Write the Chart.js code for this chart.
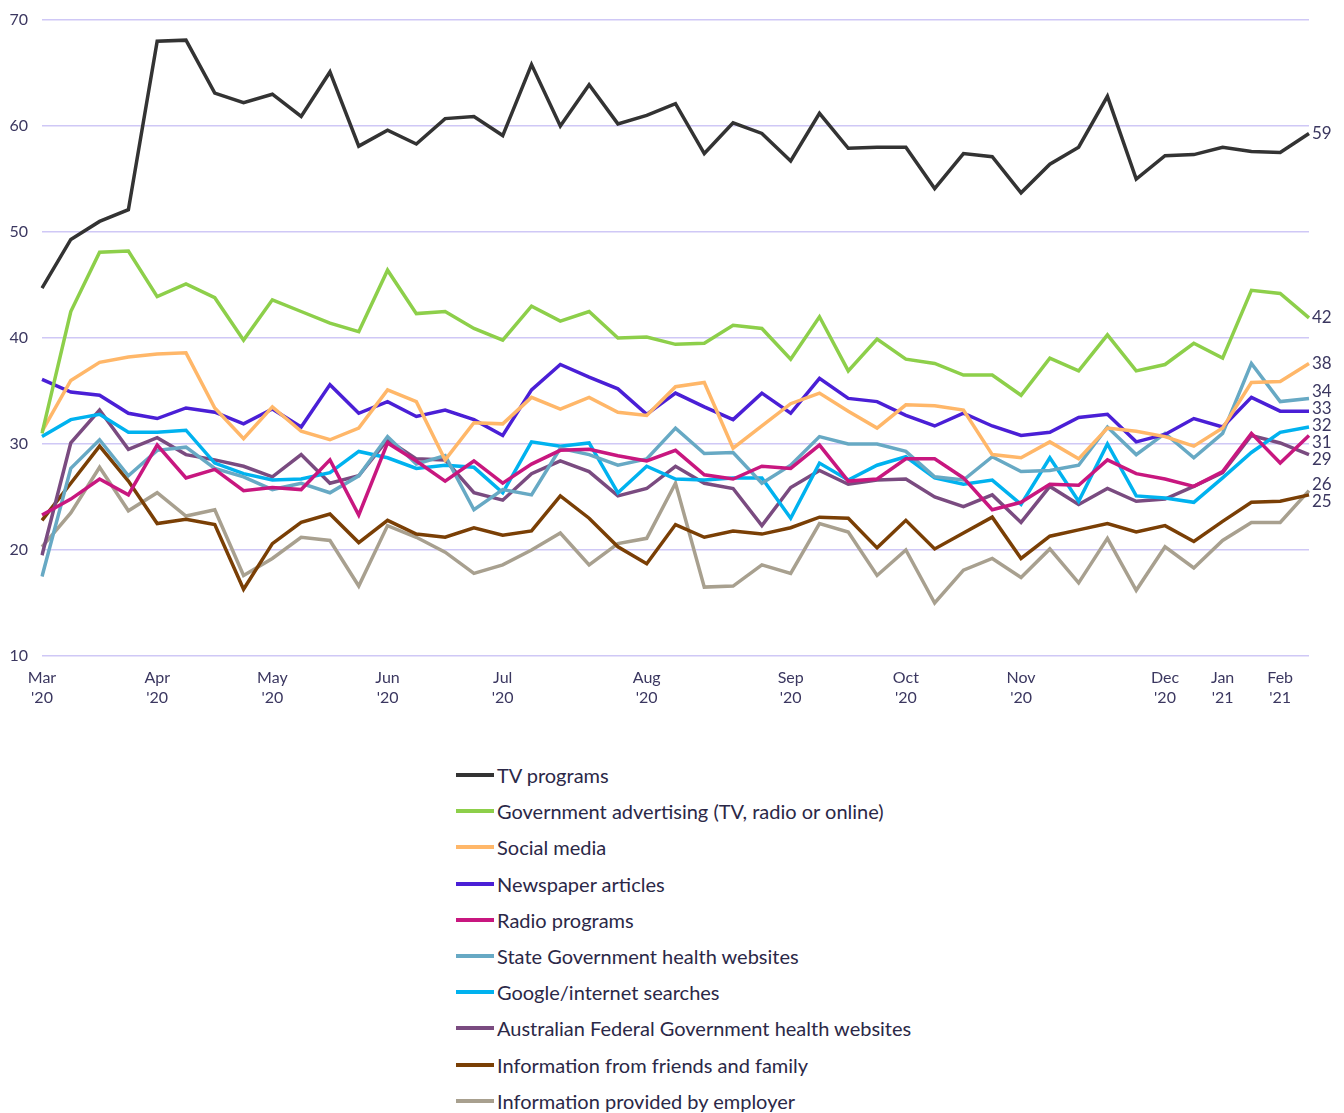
<!DOCTYPE html>
<html>
<head>
<meta charset="utf-8">
<script src="https://cdn.jsdelivr.net/npm/chart.js@4/dist/chart.umd.min.js"></script>
<style>
  body { margin: 0; background: #fff; font-family: Lato, "Open Sans", sans-serif; }
  #wrap { position: relative; width: 1344px; height: 1113px; }
  #chartBox { position: absolute; left: 0; top: 0; width: 1344px; height: 720px; }
  #legend { position: absolute; left: 456px; top: 757px; }
  .item { height: 36.2px; display: flex; align-items: center; font-size: 20px; color: #2b2847; }
  .swatch { width: 38px; height: 4px; margin-right: 3px; }
</style>
</head>
<body>
<div id="wrap">
  <div id="chartBox"><canvas id="chart"></canvas></div>
  <div id="legend"></div>
</div>
<script>
// weekly survey waves, Mar 2020 - Feb 2021 (only month starts are labelled)
const weekLabels = [
  ['Mar', "'20"], '', '', '', ['Apr', "'20"], '', '', '', ['May', "'20"], '', '', '',
  ['Jun', "'20"], '', '', '', ['Jul', "'20"], '', '', '', '', ['Aug', "'20"], '', '', '', '',
  ['Sep', "'20"], '', '', '', ['Oct', "'20"], '', '', '', ['Nov', "'20"], '', '', '', '',
  ['Dec', "'20"], '', ['Jan', "'21"], '', ['Feb', "'21"], ''
];

const yTicks = [10, 20, 30, 40, 50, 60, 70];

const seriesNames = [
  'TV programs',
  'Government advertising (TV, radio or online)',
  'Social media',
  'Newspaper articles',
  'Radio programs',
  'State Government health websites',
  'Google/internet searches',
  'Australian Federal Government health websites',
  'Information from friends and family',
  'Information provided by employer'
];

const seriesColors = ['#333333', '#8dcf4a', '#ffb769', '#4a1fd6', '#c8177f',
                      '#67a9c4', '#00b2ef', '#7a4b80', '#7a3f05', '#a8a08f'];

const tvPrograms = [44.7, 49.3, 51.0, 52.1, 68.0, 68.1, 63.1, 62.2, 63.0, 60.9, 65.1, 58.1, 59.6, 58.3, 60.7,
  60.9, 59.1, 65.8, 60.0, 63.9, 60.2, 61.0, 62.1, 57.4, 60.3, 59.3, 56.7, 61.2, 57.9, 58.0,
  58.0, 54.1, 57.4, 57.1, 53.7, 56.4, 58.0, 62.8, 55.0, 57.2, 57.3, 58.0, 57.6, 57.5, 59.3];
const govAdvertising = [31.0, 42.5, 48.1, 48.2, 43.9, 45.1, 43.8, 39.8, 43.6, 42.5, 41.4, 40.6, 46.4, 42.3, 42.5,
  40.9, 39.8, 43.0, 41.6, 42.5, 40.0, 40.1, 39.4, 39.5, 41.2, 40.9, 38.0, 42.0, 36.9, 39.9,
  38.0, 37.6, 36.5, 36.5, 34.6, 38.1, 36.9, 40.3, 36.9, 37.5, 39.5, 38.1, 44.5, 44.2, 41.9];
const socialMedia = [31.2, 36.0, 37.7, 38.2, 38.5, 38.6, 33.4, 30.5, 33.5, 31.2, 30.4, 31.5, 35.1, 34.0, 28.5,
  32.0, 31.9, 34.4, 33.3, 34.4, 33.0, 32.7, 35.4, 35.8, 29.6, 31.7, 33.8, 34.8, 33.1, 31.5,
  33.7, 33.6, 33.2, 29.0, 28.7, 30.2, 28.6, 31.5, 31.2, 30.7, 29.8, 31.5, 35.8, 35.9, 37.6];
const newspaper = [36.1, 34.9, 34.6, 32.9, 32.4, 33.4, 33.0, 31.9, 33.3, 31.6, 35.6, 32.9, 34.0, 32.6, 33.2,
  32.3, 30.8, 35.1, 37.5, 36.3, 35.2, 32.8, 34.8, 33.5, 32.3, 34.8, 32.9, 36.2, 34.3, 34.0,
  32.7, 31.7, 32.9, 31.7, 30.8, 31.1, 32.5, 32.8, 30.2, 30.9, 32.4, 31.6, 34.4, 33.1, 33.1];
const radio = [23.3, 24.8, 26.7, 25.2, 29.9, 26.8, 27.6, 25.6, 25.9, 25.7, 28.5, 23.3, 30.1, 28.4, 26.5,
  28.4, 26.3, 28.1, 29.4, 29.5, 28.9, 28.4, 29.4, 27.1, 26.7, 27.9, 27.7, 29.9, 26.5, 26.7,
  28.6, 28.6, 26.8, 23.8, 24.5, 26.2, 26.1, 28.5, 27.2, 26.7, 26.0, 27.4, 31.0, 28.2, 30.8];
const stateGov = [17.5, 27.7, 30.4, 27.0, 29.4, 29.7, 27.7, 26.9, 25.7, 26.3, 25.4, 27.0, 30.7, 28.1, 28.9,
  23.8, 25.7, 25.2, 29.6, 29.0, 28.0, 28.6, 31.5, 29.1, 29.2, 26.3, 28.0, 30.7, 30.0, 30.0,
  29.3, 26.9, 26.6, 28.8, 27.4, 27.5, 28.0, 31.6, 29.0, 31.0, 28.7, 31.0, 37.6, 34.0, 34.3];
const googleSearch = [30.7, 32.3, 32.8, 31.1, 31.1, 31.3, 28.2, 27.2, 26.6, 26.7, 27.3, 29.3, 28.7, 27.7, 28.0,
  27.8, 25.4, 30.2, 29.8, 30.1, 25.4, 27.9, 26.7, 26.6, 26.8, 26.8, 23.0, 28.2, 26.6, 28.0,
  28.8, 26.8, 26.2, 26.6, 24.3, 28.7, 24.6, 30.0, 25.1, 24.9, 24.5, 26.8, 29.2, 31.1, 31.6];
const federalGov = [19.5, 30.1, 33.2, 29.5, 30.6, 29.0, 28.5, 27.9, 26.9, 29.0, 26.3, 27.0, 30.4, 28.6, 28.5,
  25.4, 24.7, 27.2, 28.4, 27.4, 25.1, 25.8, 27.9, 26.3, 25.8, 22.3, 25.9, 27.5, 26.2, 26.6,
  26.7, 25.0, 24.1, 25.2, 22.6, 26.0, 24.3, 25.8, 24.6, 24.8, 26.0, 27.3, 30.8, 30.1, 29.0];
const friendsFamily = [22.8, 26.3, 29.8, 26.5, 22.5, 22.9, 22.4, 16.3, 20.6, 22.6, 23.4, 20.7, 22.8, 21.5, 21.2,
  22.1, 21.4, 21.8, 25.1, 23.0, 20.3, 18.7, 22.4, 21.2, 21.8, 21.5, 22.1, 23.1, 23.0, 20.2,
  22.8, 20.1, 21.6, 23.1, 19.2, 21.3, 21.9, 22.5, 21.7, 22.3, 20.8, 22.7, 24.5, 24.6, 25.2];
const employer = [20.3, 23.5, 27.8, 23.7, 25.4, 23.2, 23.8, 17.6, 19.2, 21.2, 20.9, 16.6, 22.3, 21.2, 19.8,
  17.8, 18.6, 20.0, 21.6, 18.6, 20.6, 21.1, 26.3, 16.5, 16.6, 18.6, 17.8, 22.5, 21.7, 17.6,
  20.0, 15.0, 18.1, 19.2, 17.4, 20.1, 16.9, 21.1, 16.2, 20.3, 18.3, 20.9, 22.6, 22.6, 25.6];

const seriesValues = [tvPrograms, govAdvertising, socialMedia, newspaper, radio,
                      stateGov, googleSearch, federalGov, friendsFamily, employer];

const TEXT_COLOR = '#3b3760';
const FONT = 'Lato, "Open Sans", sans-serif';

// end-of-line value labels, spread apart so they don't collide
const endLabelsPlugin = {
  id: 'endLabels',
  afterDatasetsDraw(chart) {
    const { ctx } = chart;
    const gap = 17;
    const items = [];
    chart.data.datasets.forEach((ds, i) => {
      const meta = chart.getDatasetMeta(i);
      const pt = meta.data[meta.data.length - 1];
      if (!pt) return;
      items.push({ x: pt.x, ideal: pt.y, text: String(Math.round(ds.data[ds.data.length - 1])) });
    });
    items.sort((a, b) => a.ideal - b.ideal);

    // group overlapping labels and centre each group on its members
    let groups = items.map(it => ({ items: [it] }));
    const start = g => g.items.reduce((s, it) => s + it.ideal, 0) / g.items.length - (g.items.length - 1) * gap / 2;
    let merged = true;
    while (merged) {
      merged = false;
      for (let i = 1; i < groups.length; i++) {
        const a = groups[i - 1], b = groups[i];
        const aEnd = start(a) + (a.items.length - 1) * gap;
        if (start(b) - aEnd < gap) {
          a.items = a.items.concat(b.items);
          groups.splice(i, 1);
          merged = true;
          break;
        }
      }
    }

    ctx.save();
    ctx.font = '17px ' + FONT;
    ctx.fillStyle = TEXT_COLOR;
    ctx.textAlign = 'left';
    ctx.textBaseline = 'middle';
    groups.forEach(g => {
      const y0 = start(g);
      g.items.forEach((it, k) => ctx.fillText(it.text, it.x + 3, y0 + k * gap));
    });
    ctx.restore();
  }
};

new Chart(document.getElementById('chart'), {
  type: 'line',
  data: {
    labels: weekLabels,
    datasets: seriesNames.map((name, i) => ({
      label: name,
      data: seriesValues[i],
      borderColor: seriesColors[i],
      backgroundColor: seriesColors[i],
      borderWidth: 3.5,
      pointRadius: 0,
      tension: 0,
      fill: false
    }))
  },
  options: {
    responsive: true,
    maintainAspectRatio: false,
    animation: false,
    layout: { padding: { top: 20, right: 35, bottom: 0, left: 0 } },
    plugins: {
      legend: { display: false },
      tooltip: { enabled: false }
    },
    scales: {
      x: {
        offset: false,
        grid: { display: false },
        border: { display: false },
        ticks: {
          autoSkip: false,
          maxRotation: 0,
          padding: 4,
          color: TEXT_COLOR,
          font: { family: FONT, size: 16, lineHeight: 1.25 }
        },
        afterFit: scale => { scale.height = 64; }
      },
      y: {
        min: 10,
        max: 70,
        afterBuildTicks: scale => { scale.ticks = yTicks.map(v => ({ value: v })); },
        grid: { color: '#cfc8f6', lineWidth: 1.5, drawTicks: false },
        border: { display: false },
        ticks: {
          padding: 14,
          color: TEXT_COLOR,
          font: { family: FONT, size: 16 }
        },
        afterFit: scale => {
          scale.width = 42;
          scale.paddingTop = 0;
          scale.paddingBottom = 0;
        }
      }
    }
  },
  plugins: [endLabelsPlugin]
});

// legend: one entry per line, under the chart
const legendEl = document.getElementById('legend');
seriesNames.forEach((name, i) => {
  const row = document.createElement('div');
  row.className = 'item';
  const sw = document.createElement('span');
  sw.className = 'swatch';
  sw.style.background = seriesColors[i];
  const txt = document.createElement('span');
  txt.textContent = name;
  row.appendChild(sw);
  row.appendChild(txt);
  legendEl.appendChild(row);
});
</script>
</body>
</html>
